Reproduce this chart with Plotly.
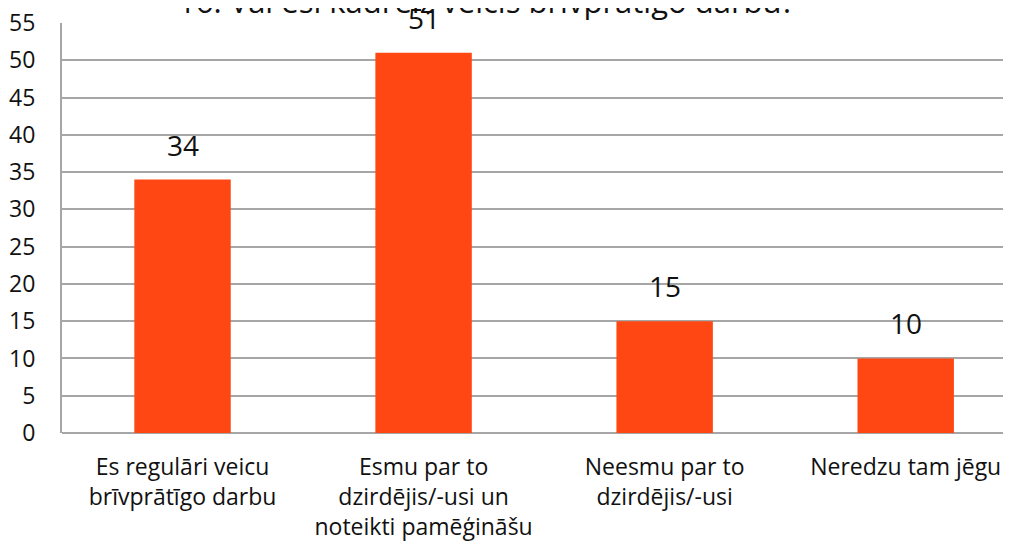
import plotly.graph_objects as go

title_text = "16. Vai esi kādreiz veicis brīvprātīgo darbu?"
categories = [
    "Es regulāri veicu<br>brīvprātīgo darbu",
    "Esmu par to<br>dzirdējis/-usi un<br>noteikti pamēģināšu",
    "Neesmu par to<br>dzirdējis/-usi",
    "Neredzu tam jēgu",
]
values = [34, 51, 15, 10]
y_ticks = list(range(0, 56, 5))

FONT = "Open Sans, Lato, sans-serif"

x_pos = list(range(len(categories)))

fig = go.Figure(
    go.Bar(
        x=x_pos,
        y=values,
        width=0.4,
        marker=dict(color="#FF4713", line=dict(width=0)),
        hoverinfo="x+y",
    )
)

for xi, v in zip(x_pos, values):
    fig.add_annotation(
        x=xi, y=v, xref="x", yref="y",
        text=str(v), showarrow=False,
        yanchor="bottom", yshift=14,
        font=dict(family=FONT, size=28, color="#111111"),
    )

# title (partly cut off at the top edge, as in the reference)
fig.add_annotation(
    x=0.444, y=1.0, xref="paper", yref="paper",
    text=title_text, showarrow=False,
    xanchor="center", yanchor="bottom", yshift=-1,
    font=dict(family=FONT, size=31, color="#111111"),
)

fig.update_layout(
    width=1011,
    height=552,
    margin=dict(l=54, r=0, t=15, b=127, autoexpand=False),
    paper_bgcolor="white",
    plot_bgcolor="white",
    showlegend=False,
    xaxis=dict(
        range=[-0.5, 3.47],
        tickmode="array",
        tickvals=x_pos,
        ticktext=categories,
        showgrid=False,
        showline=False,
        zeroline=False,
        ticks="",
        automargin=False,
        ticklabelstandoff=18,
        ticklabeloverflow="allow",
        tickfont=dict(family=FONT, size=23, color="#111111"),
        fixedrange=True,
    ),
    yaxis=dict(
        range=[0, 55],
        tickmode="array",
        tickvals=y_ticks,
        showgrid=True,
        gridcolor="#A6A6A6",
        gridwidth=2,
        showline=True,
        linecolor="#A6A6A6",
        linewidth=2,
        zeroline=True,
        zerolinecolor="#A6A6A6",
        zerolinewidth=2,
        ticks="",
        automargin=False,
        ticklabelstandoff=20,
        ticklabeloverflow="allow",
        tickfont=dict(family=FONT, size=23, color="#111111"),
        fixedrange=True,
    ),
)

fig.write_html("out.html")
